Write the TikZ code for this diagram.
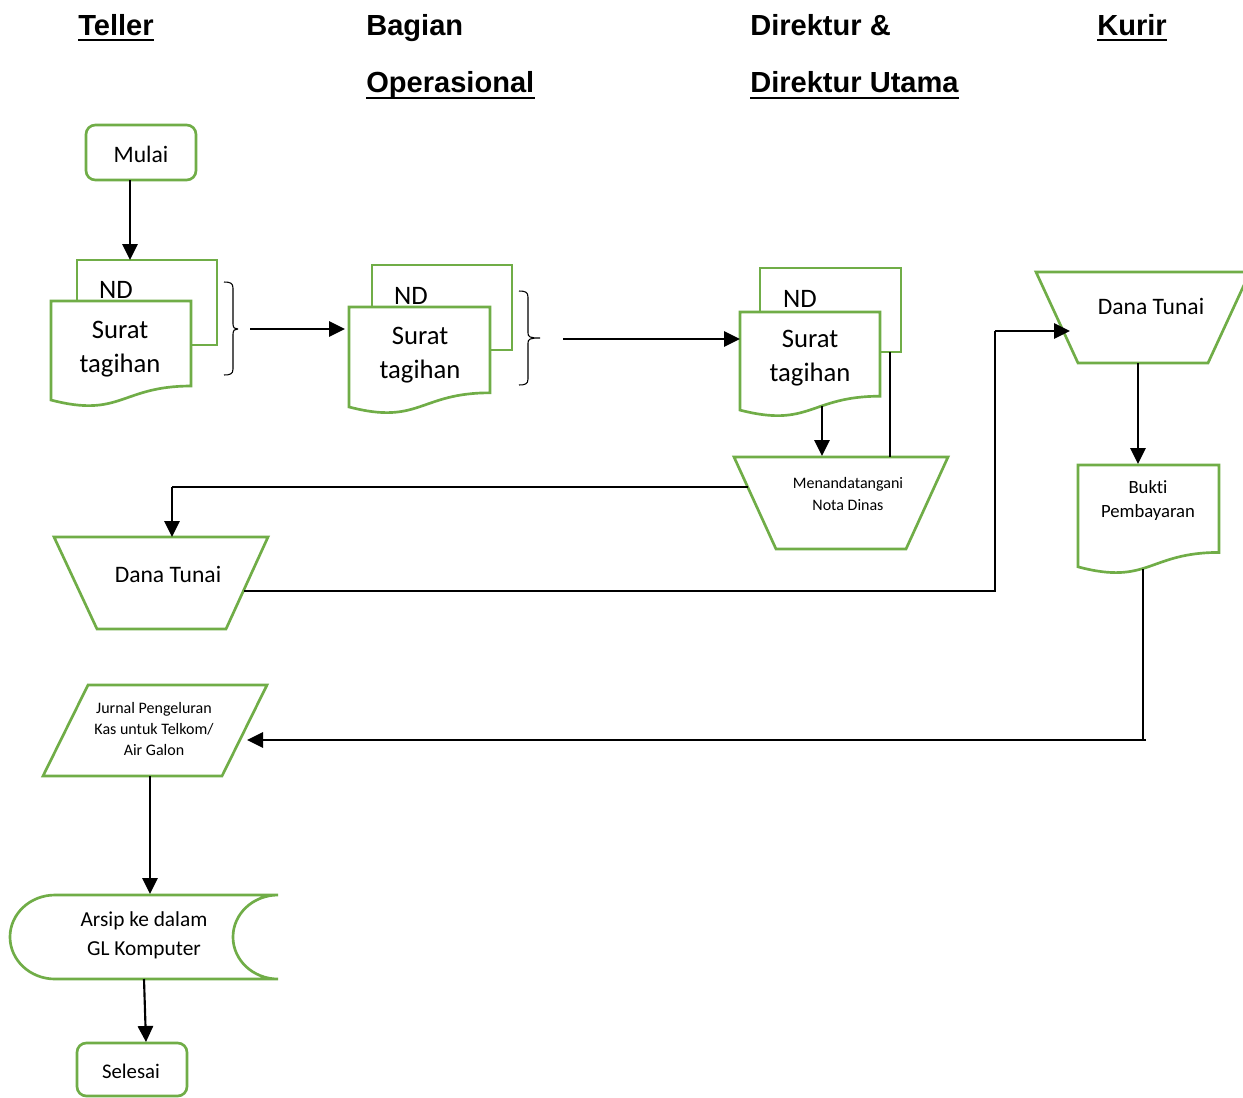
\documentclass[tikz,border=0pt]{standalone}
\usepackage{fontspec}
\setmainfont[Ligatures=NoCommon]{Carlito}
\newfontfamily\headfont{Liberation Sans}
\usetikzlibrary{arrows.meta}
\definecolor{flowgreen}{RGB}{112,173,71}

% document symbol: #1 x, #2 y (top left), #3 width, #4 height
\newcommand\docsym[4]{%
  \draw[shp] (#1,#2) -- ({#1+#3},#2) -- ({#1+#3},{#2+0.802*#4})
    .. controls ({#1+0.5*#3},{#2+0.802*#4}) and ({#1+0.5*#3},{#2+1.107*#4}) .. (#1,{#2+0.934*#4}) -- cycle;}
% right curly brace: #1 left x, #2 spine x, #3 tip x, #4 top y, #5 tip y, #6 bottom y
\newcommand\grpbrace[6]{%
  \draw[thinline] (#1,#4) .. controls ({#2-3},#4) and (#2,{#4+1}) .. (#2,{#4+6}) -- (#2,{#5-5})
    .. controls (#2,{#5-1}) and ({#2+2},#5) .. (#3,#5)
    (#3,#5) .. controls ({#2+2},#5) and (#2,{#5+1}) .. (#2,{#5+5}) -- (#2,{#6-6})
    .. controls (#2,{#6-1}) and ({#2-3},#6) .. (#1,#6);}

\begin{document}
\begin{tikzpicture}[x=0.75pt,y=-0.75pt,
  shp/.style={draw=flowgreen, line width=2pt, fill=white, line join=miter},
  flow/.style={draw=black, line width=1.6pt, -{Triangle[length=12pt,width=11.5pt]}},
  thinline/.style={draw=black, line width=0.8pt},
  head/.style={font=\headfont\bfseries\fontsize{21.8}{26}\selectfont, anchor=base west, inner sep=0pt},
  uline/.style={draw=black, line width=1.9pt},
  lbl/.style={inner sep=0pt, align=center}]
\useasboundingbox (0,0) rectangle (1243,1097);
\fill[white] (0,0) rectangle (1243,1097);

% ---- lane headings ----
\node[head] (hteller) at (78,35) {Teller};
\node[head] (hbagian) at (366,35) {Bagian};
\node[head] (hops) at (366,92) {Operasional};
\node[head] (hdir) at (750,35) {Direktur \&};
\node[head] (hdirut) at (750,92) {Direktur Utama};
\node[head] (hkurir) at (1097,35) {Kurir};
\draw[uline] ([yshift=-3.75pt]hteller.base west) -- ([yshift=-3.75pt]hteller.base east);
\draw[uline] ([yshift=-4.5pt]hops.base west) -- ([yshift=-4.5pt]hops.base east);
\draw[uline] ([yshift=-4.5pt]hdirut.base west) -- ([yshift=-4.5pt]hdirut.base east);
\draw[uline] ([yshift=-3.75pt]hkurir.base west) -- ([yshift=-3.75pt]hkurir.base east);

% ---- Teller: start ----
\draw[shp, rounded corners=7pt] (86,125) rectangle (196,180);
\node[lbl, font=\fontsize{17.7}{21}\selectfont] (mulai) at (141,154) {Mulai};

% ---- Teller: ND + surat tagihan ----
\draw[shp] (77,260) rectangle (217,345);
\docsym{51}{301}{140}{106}
\node[lbl, font=\fontsize{20}{24}\selectfont] (nd1) at (116,290) {ND};
\node[lbl, font=\fontsize{20}{25.5}\selectfont] (st1) at (120,349) {Surat\\tagihan};
\grpbrace{224}{233}{238}{282}{329}{375}

% ---- Bagian Operasional: ND + surat tagihan ----
\draw[shp] (372,265) rectangle (512,350);
\docsym{349}{307}{141}{107}
\node[lbl, font=\fontsize{20}{24}\selectfont] (nd2) at (411,296) {ND};
\node[lbl, font=\fontsize{20}{25.5}\selectfont] (st2) at (420,355) {Surat\\tagihan};
\grpbrace{519}{528}{540}{291}{338}{385}

% ---- Direktur: ND + surat tagihan ----
\draw[shp] (760,268) rectangle (901,352);
\docsym{740}{312}{140}{105}
\node[lbl, font=\fontsize{20}{24}\selectfont] (nd3) at (800,299) {ND};
\node[lbl, font=\fontsize{20}{25.5}\selectfont] (st3) at (810,358) {Surat\\tagihan};

% ---- Direktur: manual operation ----
\draw[shp] (734,457) -- (948,457) -- (906,549) -- (776,549) -- cycle;
\node[lbl, font=\fontsize{12}{16.5}\selectfont] (ttd) at (848,494) {Menandatangani\\Nota Dinas};

% ---- Teller: dana tunai ----
\draw[shp] (54,537) -- (268,537) -- (226,629) -- (97,629) -- cycle;
\node[lbl, font=\fontsize{17.7}{21}\selectfont] (dt1) at (168,574) {Dana Tunai};

% ---- Kurir: dana tunai ----
\draw[shp] (1036,272) -- (1250,272) -- (1208,363) -- (1078,363) -- cycle;
\node[lbl, font=\fontsize{17.7}{21}\selectfont] (dt2) at (1151,306) {Dana Tunai};

% ---- Kurir: bukti pembayaran ----
\docsym{1078}{465}{141}{109}
\node[lbl, font=\fontsize{14}{18}\selectfont] (bukti) at (1148,501) {Bukti\\Pembayaran};

% ---- Teller: jurnal ----
\draw[shp] (88,685) -- (267,685) -- (222,776) -- (43,776) -- cycle;
\node[lbl, font=\fontsize{12}{15.75}\selectfont] (jurnal) at (154,729) {Jurnal Pengeluran\\Kas untuk Telkom/\\Air Galon};

% ---- Teller: stored data ----
\draw[shp] (55,895) -- (278,895)
  .. controls (253.15,895) and (233,913.8) .. (233,937)
  .. controls (233,960.2) and (253.15,979) .. (278,979)
  -- (55,979)
  .. controls (30.15,979) and (10,960.2) .. (10,937)
  .. controls (10,913.8) and (30.15,895) .. (55,895) -- cycle;
\node[lbl, font=\fontsize{16}{21.75}\selectfont] (arsip) at (144,935) {Arsip ke dalam\\GL Komputer};

% ---- Teller: end ----
\draw[shp, rounded corners=7pt] (77,1043) rectangle (187,1096);
\node[lbl, font=\fontsize{15.6}{19}\selectfont] (selesai) at (131,1071) {Selesai};

% ---- connection points ----
\coordinate (mulaiout) at (130,180);
\coordinate (nd1in) at (130,260);
\coordinate (br1tip) at (250,329);
\coordinate (st2in) at (345,329);
\coordinate (br2tip) at (563,339);
\coordinate (st3in) at (740,339);
\coordinate (st3out) at (822,406);
\coordinate (ttdin) at (822,456);
\coordinate (nd3out) at (890,352);
\coordinate (ttdtop) at (890,457);
\coordinate (ttdleft) at (748,487);
\coordinate (c1) at (172,487);
\coordinate (dt1in) at (172,537);
\coordinate (dt1right) at (244,591);
\coordinate (c2) at (995,591);
\coordinate (c3) at (995,331);
\coordinate (dt2in) at (1070,331);
\coordinate (dt2out) at (1138,363);
\coordinate (buktiin) at (1138,464);
\coordinate (buktiout) at (1143,569);
\coordinate (c4) at (1143,740);
\coordinate (c5) at (1146,740);
\coordinate (jurnalin) at (247,740);
\coordinate (jurnalout) at (150,776);
\coordinate (arsipin) at (150,894);
\coordinate (arsipout) at (144,979);
\coordinate (selesaiin) at (146,1042);

% ---- connectors ----
\draw[flow] (mulaiout) -- (nd1in);
\draw[flow] (br1tip) -- (st2in);
\draw[flow] (br2tip) -- (st3in);
\draw[flow] (st3out) -- (ttdin);
\draw[thinline] (nd3out) -- (ttdtop);
\draw[thinline] (ttdleft) -- (c1);
\draw[flow] (c1) -- (dt1in);
\draw[thinline] (dt1right) -- (c2) -- (c3);
\draw[flow] (c3) -- (dt2in);
\draw[flow] (dt2out) -- (buktiin);
\draw[thinline] (buktiout) -- (c4);
\draw[flow] (c5) -- (jurnalin);
\draw[flow] (jurnalout) -- (arsipin);
\draw[flow] (arsipout) -- (selesaiin);
\end{tikzpicture}
\end{document}
